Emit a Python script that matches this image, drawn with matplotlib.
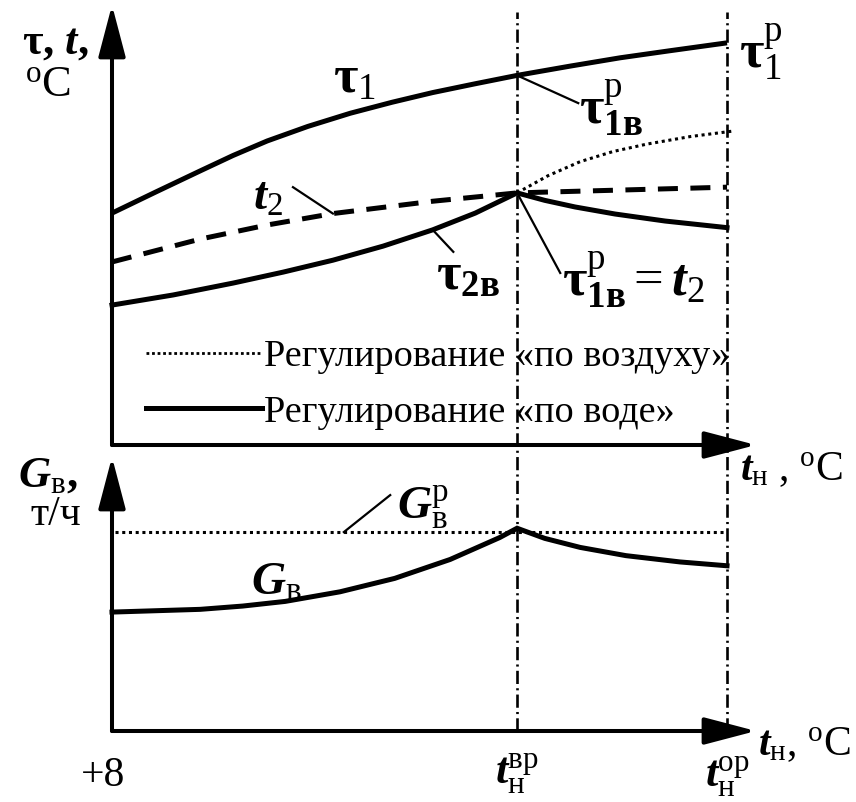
import numpy as np
import matplotlib.pyplot as plt
from matplotlib.lines import Line2D

plt.rcParams['font.family'] = ['Liberation Serif', 'DejaVu Serif']
plt.rcParams['mathtext.fontset'] = 'custom'
plt.rcParams['mathtext.rm'] = 'Liberation Serif'
plt.rcParams['mathtext.it'] = 'Liberation Serif:italic'
plt.rcParams['mathtext.bf'] = 'Liberation Serif:bold'
plt.rcParams['mathtext.bfit'] = 'Liberation Serif:bold:italic'

# характерные температуры наружного воздуха (условная шкала 0..100)
t_vr = 62.9   # t_н^вр
t_or = 95.5   # t_н^ор

# верхний график: температуры теплоносителя
x_tau1 = [0, 6.8, 13.7, 18.8, 24.1, 30.4, 37.0, 43.5, 49.8, 56.4, 62.9,
          71.1, 78.9, 86.6, 95.5]
tau1 = [52.7, 57.5, 62.3, 65.8, 69.1, 72.4, 75.4, 77.9, 80.1, 82.1, 84.0,
        86.1, 88.0, 89.6, 91.4]

x_t2 = [0, 13.7, 24.1, 34.3, 49.8, 62.9, 95.5]
t2 = [41.6, 46.8, 50.0, 52.6, 55.4, 57.3, 58.6]

x_tau2 = [0, 9.5, 18.8, 26.6, 34.3, 42.1, 49.8, 56.4, 62.9,
          67.2, 71.9, 78.1, 85.9, 95.5]
tau2 = [31.8, 34.1, 36.8, 39.3, 42.0, 45.2, 48.9, 52.7, 57.3,
        55.6, 54.1, 52.5, 50.9, 49.4]

# регулирование «по воздуху» после t_н^вр
x_air = [62.9, 67.7, 72.7, 77.8, 83.1, 89.8, 96.7]
tau2_air = [57.3, 61.2, 64.4, 66.7, 68.4, 70.1, 71.4]

# нижний график: расход воды
x_g = [0, 13.7, 20.3, 26.9, 35.4, 43.9, 52.5, 60.2, 62.9,
       67.2, 72.7, 79.8, 88.2, 95.5]
g = [43.4, 44.4, 45.6, 47.3, 50.8, 55.7, 62.6, 70.6, 74.0,
     70.3, 67.0, 64.0, 61.7, 60.3]
g_p = 72.6

W, H = 856, 802


def box(x0, y0, x1, y1):
    return [x0 / W, 1 - y1 / H, (x1 - x0) / W, (y1 - y0) / H]


fig = plt.figure(figsize=(W / 100, H / 100), dpi=100)
ax_t = fig.add_axes(box(112, 5, 756, 445))
ax_b = fig.add_axes(box(112, 457, 756, 731))
ax_v = fig.add_axes(box(112, 12, 756, 731))

for ax in (ax_t, ax_b, ax_v):
    ax.set_xlim(0, 100)
    ax.set_ylim(0, 100)
    ax.axis('off')
    ax.patch.set_alpha(0)

arrow = dict(arrowstyle='-|>,head_length=1.6,head_width=0.42', lw=2.9,
             color='k', mutation_scale=20, shrinkA=0, shrinkB=0)
for ax in (ax_t, ax_b):
    ax.annotate('', xy=(0, 1), xytext=(0, 0), xycoords='axes fraction',
                arrowprops=arrow)
    ax.annotate('', xy=(1, 0), xytext=(0, 0), xycoords='axes fraction',
                arrowprops=arrow)

# штрихпунктирные вертикали
dashdot = (0, (5, 1.6, 0.8, 1.6))
ax_v.axvline(t_vr, color='k', lw=1.9, ls=dashdot)
ax_v.axvline(t_or, color='k', lw=1.9, ls=dashdot)

lw = 3.6
dotted = (0, (1, 1.2))
ax_t.plot(x_tau1, tau1, color='k', lw=lw, clip_on=False, solid_capstyle='butt')
ax_t.plot(x_t2, t2, color='k', lw=lw, ls=(0, (4, 2.5)), clip_on=False)
ax_t.plot(x_tau2, tau2, color='k', lw=lw, clip_on=False, solid_joinstyle='miter')
ax_t.plot(x_air, tau2_air, color='k', lw=2.2, ls=dotted, clip_on=False)

ax_b.plot([0.5, t_or], [g_p, g_p], color='k', lw=2.2, ls=dotted)
ax_b.plot(x_g, g, color='k', lw=lw, clip_on=False, solid_joinstyle='miter')

# подписи кривых с выносками
fs = 34
fs_tau = 38
tau1_vr = np.interp(t_vr, x_tau1, tau1)
tau2_vr = np.interp(t_vr, x_tau2, tau2)
lead = dict(color='k', lw=1.6)

ax_t.text(37.7, 83.0, r'$\mathbf{τ}_{\mathrm{1}}$', fontsize=fs_tau,
          ha='center', va='center')
ax_t.text(97.3, 89.3, r'$\mathbf{τ}_{\mathrm{1}}^{\mathrm{р}}$', fontsize=fs_tau,
          ha='left', va='center')

ax_t.plot([t_vr, 72.4], [tau1_vr, 77.7], **lead)
ax_t.text(72.5, 76.5, r'$\mathbf{τ}_{\mathbf{1в}}^{\mathrm{р}}$', fontsize=fs_tau,
          ha='left', va='center')

ax_t.plot([t_vr, 69.6], [tau2_vr, 39.1], **lead)
ax_t.text(69.8, 37.5,
          r'$\mathbf{τ}_{\mathbf{1в}}^{\mathrm{р}}=\mathbfit{t}_{\mathrm{2}}$',
          fontsize=fs_tau, ha='left', va='center')

ax_t.plot([34.3, 28.1], [np.interp(34.3, x_t2, t2), 58.6], **lead)
ax_t.text(24.2, 56.1, r'$\mathbfit{t}_{\mathrm{2}}$', fontsize=fs,
          ha='center', va='center')

ax_t.plot([49.8, 53.0], [np.interp(49.8, x_tau2, tau2), 43.9], **lead)
ax_t.text(55.3, 38.2, r'$\mathbf{τ}_{\mathbf{2в}}$', fontsize=fs_tau,
          ha='center', va='center')

ax_b.plot([36.0, 43.2], [g_p, 86.1], **lead)
ax_b.text(44.3, 81.4, r'$\mathbfit{G}_{\mathrm{в}}^{\mathrm{р}}$', fontsize=fs,
          ha='left', va='center')
ax_b.text(21.6, 54.0, r'$\mathbfit{G}_{\mathrm{в}}$', fontsize=fs,
          ha='left', va='center')

# легенда
handles = [Line2D([], [], color='k', lw=2.0, ls=(0, (1, 1))),
           Line2D([], [], color='k', lw=lw)]
ax_t.legend(handles, ['Регулирование «по воздуху»', 'Регулирование «по воде»'],
            loc='center left', bbox_to_anchor=(0.0528, 0.1375), frameon=False,
            fontsize=27.5, handlelength=3.05, handletextpad=0.05,
            labelspacing=0.55, borderpad=0, borderaxespad=0)


# подписи осей
def ftext(px, py, s, **kw):
    fig.text(px / W, 1 - py / H, s, va='center', **kw)


ftext(22, 43, r'$\mathbf{τ}$, $\mathbfit{t}$,', fontsize=32, fontweight='bold')
ftext(25, 85, r'$^{\mathrm{o}}$C', fontsize=32)
ftext(18, 476, r'$\mathbfit{G}_{\mathrm{в}}$,', fontsize=32, fontweight='bold')
ftext(30, 515, 'т/ч', fontsize=30)
ftext(740, 470, r'$\mathbfit{t}_{\mathrm{н}}$ , $^{\mathrm{o}}$C', fontsize=30)
ftext(758, 745, r'$\mathbfit{t}_{\mathrm{н}}$, $^{\mathrm{o}}$C', fontsize=30)

ax_b.text(-1.4, -16.4, '+8', fontsize=30, ha='center', va='center')
ax_b.text(t_vr, -16.0, r'$\mathbfit{t}_{\mathrm{н}}^{\mathrm{вр}}$', fontsize=32,
          ha='center', va='center')
ax_b.text(t_or, -16.8, r'$\mathbfit{t}_{\mathrm{н}}^{\mathrm{ор}}$', fontsize=32,
          ha='center', va='center')

fig.savefig('out.png', dpi=100, facecolor='white')
